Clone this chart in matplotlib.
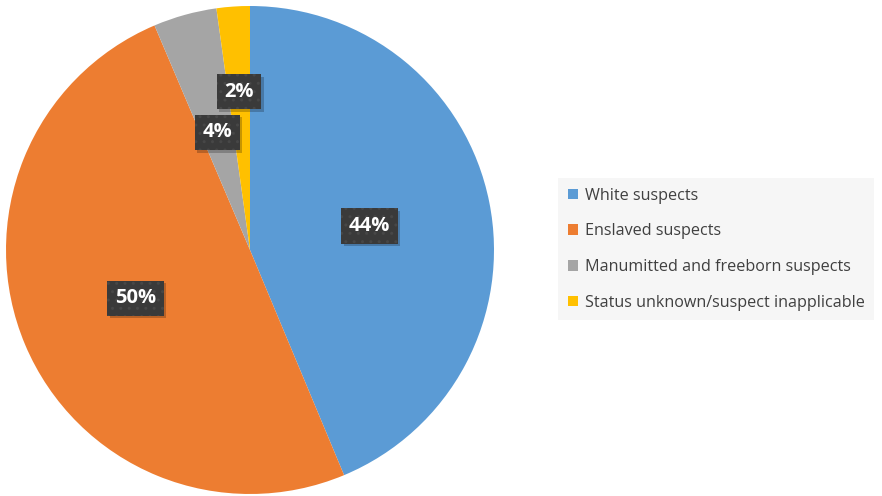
import matplotlib.pyplot as plt
import matplotlib.transforms as mtransforms
import numpy as np

categories = [
    "White suspects",
    "Enslaved suspects",
    "Manumitted and freeborn suspects",
    "Status unknown/suspect inapplicable",
]
shares = [43.7, 49.9, 4.2, 2.2]
pct_labels = ["44%", "50%", "4%", "2%"]
colors = ["#5B9BD5", "#ED7D31", "#A5A5A5", "#FFC000"]
label_radius = [0.5, 0.51, 0.5, 0.65]

plt.rcParams["font.family"] = ["Open Sans", "DejaVu Sans"]

W, H = 882, 496
fig = plt.figure(figsize=(W / 100, H / 100), dpi=100)
cx, cy, r = 250, 246, 244
ax = fig.add_axes([(cx - r) / W, (cy - r) / H, 2 * r / W, 2 * r / H])

wedges, _ = ax.pie(
    shares,
    colors=colors,
    startangle=90,
    counterclock=False,
    wedgeprops=dict(linewidth=0),
)
ax.set_xlim(-1, 1)
ax.set_ylim(-1, 1)
ax.set_aspect("equal")
ax.axis("off")

labels = []
for wedge, text, dist in zip(wedges, pct_labels, label_radius):
    mid = np.deg2rad((wedge.theta1 + wedge.theta2) / 2)
    t = ax.text(
        dist * np.cos(mid),
        dist * np.sin(mid),
        text,
        ha="center",
        va="center",
        color="white",
        fontsize=14.5,
        fontweight="bold",
        zorder=4,
        bbox=dict(
            boxstyle="square,pad=0.38",
            facecolor="#3a3a3a",
            edgecolor="#474747",
            linewidth=0,
            hatch="..",
        ),
    )
    labels.append(t)

# drop shadows behind the label boxes
fig.canvas.draw()
for t in labels:
    bb = t.get_bbox_patch().get_window_extent()
    shadow = plt.Rectangle(
        (bb.x0 + 2.5, bb.y0 - 2.5),
        bb.width,
        bb.height,
        facecolor="black",
        alpha=0.22,
        linewidth=0,
        zorder=3,
    )
    shadow.set_transform(mtransforms.IdentityTransform())
    shadow.set_clip_on(False)
    ax.add_artist(shadow)

handles = [
    plt.Rectangle((0, 0), 1, 1, facecolor=c, edgecolor="none") for c in colors
]
leg = fig.legend(
    handles,
    categories,
    loc="upper left",
    bbox_to_anchor=(558 / W, 1 - 178 / H),
    frameon=True,
    fontsize=11.6,
    handlelength=0.62,
    handleheight=0.62,
    handletextpad=0.45,
    labelspacing=1.22,
    borderpad=0.6,
    borderaxespad=0,
    fancybox=False,
)
leg.get_frame().set_facecolor("#F4F4F4")
leg.get_frame().set_edgecolor("none")
for txt in leg.get_texts():
    txt.set_color("#404040")

fig.savefig("out.png", dpi=100)
